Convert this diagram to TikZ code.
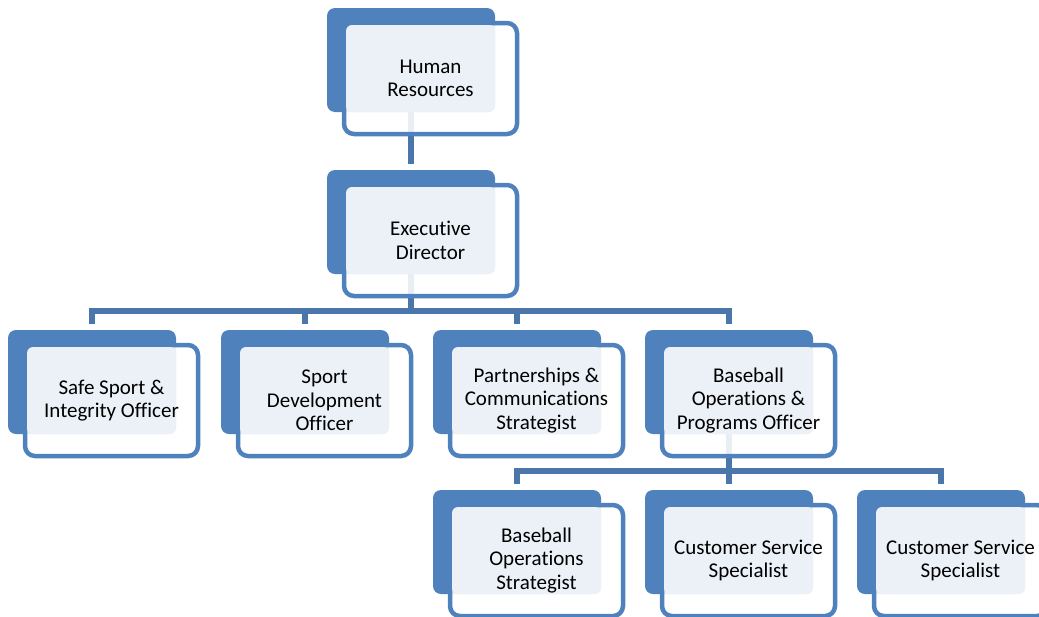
\documentclass[tikz,border=0pt]{standalone}
\usepackage{fontspec}
\setmainfont{Carlito}[Ligatures={NoCommon}]
\usetikzlibrary{backgrounds}
\definecolor{boxblue}{HTML}{4F81BD}
\definecolor{connblue}{HTML}{4A76AC}
\definecolor{lightfill}{HTML}{ECF1F8}
\begin{document}
\begin{tikzpicture}[x=1pt,y=-1pt,
  backbox/.style={fill=boxblue, draw=none, rounded corners=8pt, minimum width=168pt, minimum height=104pt, inner sep=0pt, outer sep=0pt, anchor=north west},
  framebox/.style={draw=boxblue, line width=4.5pt, fill=white, fill opacity=0.88, rounded corners=10pt, minimum width=173pt, minimum height=111pt, inner sep=0pt, outer sep=0pt, anchor=north west},
  lightbox/.style={fill=lightfill, draw=none, rounded corners=6pt, minimum width=149pt, minimum height=87pt, inner sep=0pt, outer sep=0pt, anchor=north west},
  label/.style={align=center, inner sep=0pt, font=\fontsize{21}{23.5}\selectfont, text=black},
  conn/.style={draw=connblue, line width=5.5pt, line join=miter}
]
\useasboundingbox (0,0) rectangle (1039,616);
\newcommand\orgunit[4]{%
  \node[backbox] (#1) at (#2,#3) {};
  \node[framebox] (#1f) at (#2+17,#3+15) {};
  \node[lightbox] (#1l) at (#2+19,#3+17) {};
  \node[label] (#1t) at (#2+103.5,#3+70.5) {#4};
}
\coordinate (bar1) at (0,311);
\coordinate (bar2) at (0,471);
% boxes
\orgunit{hr}{327}{8}{Human\\Resources}
\orgunit{ed}{327}{170}{Executive\\Director}
\orgunit{ss}{8}{330}{Safe Sport \&\\Integrity Officer}
\orgunit{sd}{221}{330}{Sport\\Development\\Officer}
\orgunit{pc}{433}{330}{Partnerships \&\\Communications\\Strategist}
\orgunit{bo}{645}{330}{Baseball\\Operations \&\\Programs Officer}
\orgunit{bs}{433}{490}{Baseball\\Operations\\Strategist}
\orgunit{csa}{645}{490}{Customer Service\\Specialist}
\orgunit{csb}{857}{490}{Customer Service\\Specialist}
% connectors behind the boxes
\begin{scope}[on background layer]
  \draw[conn, shorten >=6pt] (hr.south) -- (ed.north);
  \draw[conn] (ed.south) -- (ed.south |- bar1);
  \draw[conn, shorten <=6pt, shorten >=6pt] (ss.north) -- (ss.north |- bar1) -- (bo.north |- bar1) -- (bo.north);
  \draw[conn, shorten >=6pt] (sd.north |- bar1) -- (sd.north);
  \draw[conn, shorten >=6pt] (pc.north |- bar1) -- (pc.north);
  \draw[conn] (bo.south) -- (bo.south |- bar2);
  \draw[conn, shorten <=6pt, shorten >=6pt] (bs.north) -- (bs.north |- bar2) -- (csb.north |- bar2) -- (csb.north);
  \draw[conn, shorten >=6pt] (csa.north |- bar2) -- (csa.north);
\end{scope}
\end{tikzpicture}
\end{document}
